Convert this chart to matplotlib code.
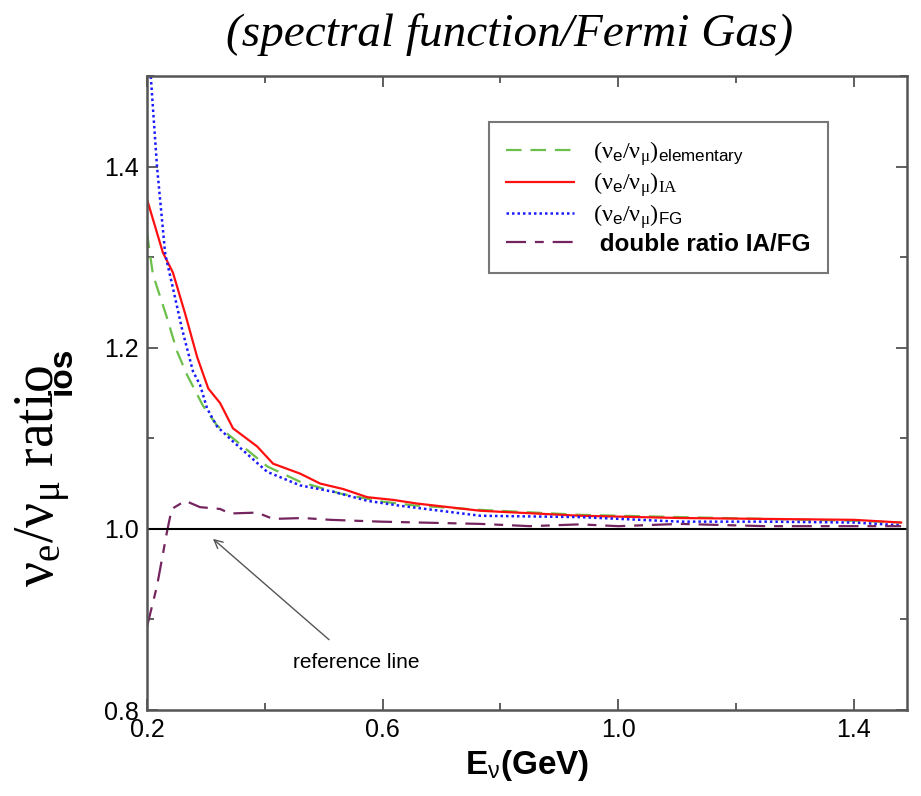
import numpy as np
import matplotlib
matplotlib.use("Agg")
from matplotlib import pyplot as plt
from matplotlib.ticker import FixedLocator, MultipleLocator

plt.rcParams['font.family'] = ['Liberation Sans', 'DejaVu Sans']
plt.rcParams['mathtext.fontset'] = 'custom'
plt.rcParams['mathtext.rm'] = 'Liberation Serif'
plt.rcParams['mathtext.it'] = 'Liberation Serif:italic'
plt.rcParams['mathtext.sf'] = 'Liberation Sans'
plt.rcParams['mathtext.bf'] = 'Liberation Sans:bold'

# values
E_el = [0.2, 0.21, 0.234, 0.251, 0.268, 0.295, 0.319, 0.346, 0.404, 0.46, 0.528, 0.601, 0.652, 0.766, 0.935, 1.105, 1.25, 1.4, 1.48]
r_el = [1.327, 1.281, 1.233, 1.196, 1.17, 1.136, 1.114, 1.100, 1.069, 1.052, 1.039, 1.030, 1.026, 1.021, 1.0155, 1.013, 1.011, 1.009, 1.007]

E_ia = [0.2, 0.227, 0.244, 0.265, 0.285, 0.304, 0.324, 0.346, 0.387, 0.414, 0.46, 0.494, 0.533, 0.574, 0.618, 0.658, 0.766, 0.935, 1.105, 1.25, 1.4, 1.48]
r_ia = [1.364, 1.305, 1.283, 1.237, 1.19, 1.155, 1.139, 1.111, 1.091, 1.072, 1.061, 1.050, 1.044, 1.035, 1.032, 1.028, 1.020, 1.0145, 1.012, 1.011, 1.010, 1.007]

E_fg = [0.2, 0.217, 0.231, 0.244, 0.259, 0.278, 0.29, 0.302, 0.319, 0.346, 0.404, 0.46, 0.516, 0.574, 0.63, 0.71, 0.766, 0.935, 1.105, 1.25, 1.4, 1.48]
r_fg = [1.56, 1.40, 1.303, 1.266, 1.222, 1.174, 1.159, 1.133, 1.113, 1.0965, 1.063, 1.048, 1.041, 1.031, 1.0255, 1.019, 1.0145, 1.013, 1.008, 1.008, 1.007, 1.004]

E_dr = [0.2, 0.217, 0.234, 0.242, 0.265, 0.29, 0.324, 0.341, 0.387, 0.414, 0.465, 0.511, 0.596, 0.766, 0.85, 0.935, 1.0, 1.105, 1.25, 1.4, 1.48]
r_dr = [0.892, 0.937, 0.997, 1.022, 1.031, 1.024, 1.022, 1.017, 1.018, 1.011, 1.012, 1.010, 1.008, 1.0055, 1.003, 1.005, 1.003, 1.0055, 1.003, 1.003, 1.003]

x_major = [0.2, 0.6, 1.0, 1.4]
x_minor = [0.4, 0.8, 1.2]

fig = plt.figure(figsize=(9.21, 7.96), dpi=100)
ax = fig.add_axes([0.1596, 0.108, 0.8252, 0.7965])

ax.plot(E_el, r_el, color='#6cbf4a', lw=1.6, dashes=(7, 4),
        label=r'$\mathrm{(\nu_{\mathsf{e}}/\nu_\mu)}_{\mathsf{elementary}}$')
ax.plot(E_ia, r_ia, color='#ff1010', lw=1.6,
        label=r'$\mathrm{(\nu_{\mathsf{e}}/\nu_\mu)_{IA}}$')
ax.plot(E_fg, r_fg, color='#1a1aff', lw=1.8, dashes=(1, 1.2),
        label=r'$\mathrm{(\nu_{\mathsf{e}}/\nu_\mu)}_{\mathsf{FG}}$')
ax.plot(E_dr, r_dr, color='#74245e', lw=1.6, dashes=(9, 4, 4, 4),
        label=' double ratio IA/FG')
ax.axhline(1.0, color='black', lw=1.5)

ax.annotate('reference line', xy=(0.312, 0.989), xytext=(0.447, 0.852),
            fontsize=15, va='center', ha='left',
            arrowprops=dict(arrowstyle='->', color='#555555', lw=1.0,
                            shrinkA=12, shrinkB=0))

ax.set_xlim(0.2, 1.49)
ax.set_ylim(0.8, 1.5)
ax.xaxis.set_major_locator(FixedLocator(x_major))
ax.xaxis.set_minor_locator(FixedLocator(x_minor))
ax.yaxis.set_major_locator(MultipleLocator(0.2))
ax.yaxis.set_minor_locator(MultipleLocator(0.1))
ax.tick_params(which='both', direction='in', top=True, right=True,
               color='#444444', width=1.2)
ax.tick_params(which='major', length=8, labelsize=18, pad=6)
ax.tick_params(which='minor', length=5)
for s in ax.spines.values():
    s.set_color('#555555')
    s.set_linewidth(1.8)

ax.set_xlabel(r'E$_{\mathsf{\nu}}$(GeV)', fontsize=24, fontweight='bold', labelpad=4)
ax.set_ylabel(r'$\mathrm{\nu_e/\nu_\mu\ ratio}$', fontsize=40)
ax.yaxis.set_label_coords(-0.097, 0.37)
ax.text(-0.112, 0.535, 'ios', transform=ax.transAxes, rotation=90,
        fontsize=24, fontweight='bold', ha='center', va='center')

leg = ax.legend(loc='upper right', bbox_to_anchor=(0.896, 0.927), fontsize=17.5,
                frameon=True, fancybox=False, handlelength=2.8,
                borderpad=0.7, labelspacing=0.1, borderaxespad=0)
leg.get_frame().set_edgecolor('#555555')
leg.get_frame().set_linewidth(1.5)
leg.get_texts()[3].set_fontweight('bold')

fig.text(510 / 921, 1 - 35 / 796, '(spectral function/Fermi Gas)', fontsize=34,
         family='Liberation Serif', style='italic', ha='center', va='center')

fig.savefig('out.png', dpi=100)
